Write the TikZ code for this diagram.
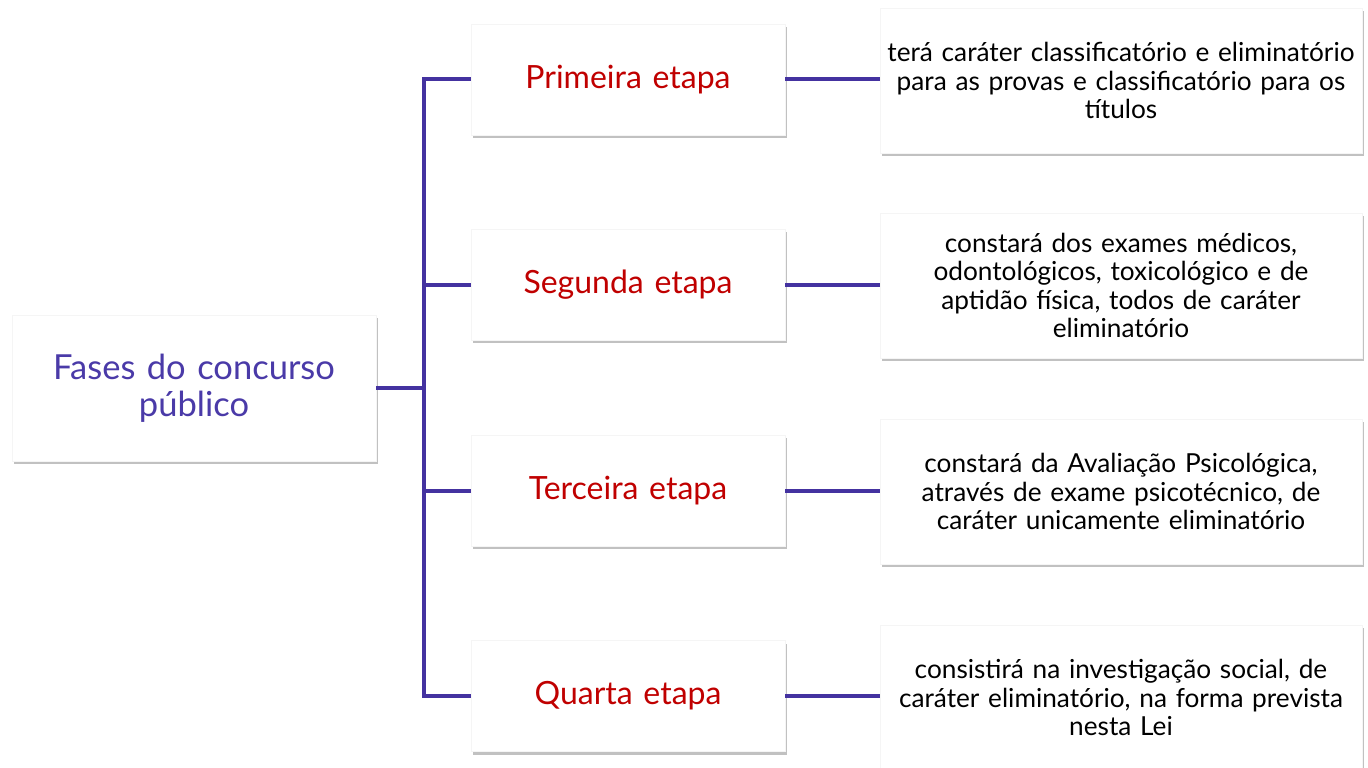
\documentclass[tikz,border=0pt]{standalone}
\usepackage{fontspec}
\setmainfont{Lato}
\usetikzlibrary{shadows}
\definecolor{lineP}{HTML}{4432A0}
\definecolor{mainT}{HTML}{4A3AA8}
\definecolor{stepT}{HTML}{C00000}
\begin{document}
\begin{tikzpicture}[x=1pt,y=-1pt,
  card/.style={rectangle, fill=white, draw=gray!8, line width=0.6pt, inner sep=0pt,
    drop shadow={shadow xshift=1.5pt, shadow yshift=-3pt, opacity=0.35, fill=black!70}},
  mainbox/.style={card, minimum width=364pt, minimum height=146pt, text width=350pt, align=center,
    text=mainT, font=\fontsize{34.5}{37}\selectfont},
  stepbox/.style={card, minimum width=314pt, minimum height=111pt, text width=300pt, align=center,
    text=stepT, font=\fontsize{32}{34}\selectfont},
  descbox/.style={card, minimum width=482pt, minimum height=145pt, text width=478pt, align=center,
    text=black, font=\fontsize{26.2}{28.5}\selectfont},
  conn/.style={draw=lineP, line width=4pt}]
\useasboundingbox (0,0) rectangle (1368,768);
\begin{scope}
\clip (0,0) rectangle (1368,768);
\node[mainbox] (main) at (194,388) {Fases do concurso\\público};
\node[stepbox] (m1) at (628,79.5) {Primeira etapa};
\node[stepbox] (m2) at (628,284.5) {Segunda etapa};
\node[stepbox] (m3) at (628,490.5) {Terceira etapa};
\node[stepbox] (m4) at (628,696) {Quarta etapa};
\node[descbox] (r1) at (1121,80.5) {terá caráter classificatório e eliminatório\\para as provas e classificatório para os\\títulos};
\node[descbox] (r2) at (1121,285.5) {constará dos exames médicos,\\odontológicos, toxicológico e de\\aptidão física, todos de caráter\\eliminatório};
\node[descbox] (r3) at (1121,491.5) {constará da Avaliação Psicológica,\\através de exame psicotécnico, de\\caráter unicamente eliminatório};
\node[descbox] (r4) at (1121,697.5) {consistirá na investigação social, de\\caráter eliminatório, na forma prevista\\nesta Lei};
\coordinate (j0) at (424,388);
\coordinate (j1) at (424,79.5);
\coordinate (j2) at (424,284.5);
\coordinate (j3) at (424,490.5);
\coordinate (j4) at (424,696);
\draw[conn] (main.east) -- (j0);
\draw[conn] (m1.west) -- (j1) -- (j4) -- (m4.west);
\draw[conn] (j2) -- (m2.west);
\draw[conn] (j3) -- (m3.west);
\draw[conn] (m1.east) -- (r1.west |- m1.east);
\draw[conn] (m2.east) -- (r2.west |- m2.east);
\draw[conn] (m3.east) -- (r3.west |- m3.east);
\draw[conn] (m4.east) -- (r4.west |- m4.east);
\end{scope}
\end{tikzpicture}
\end{document}
